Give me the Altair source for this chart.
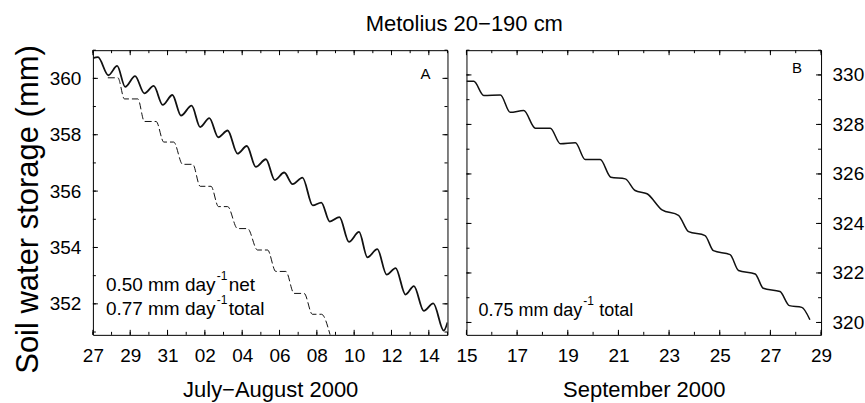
import altair as alt
import pandas as pd

FONT = "Liberation Sans"
W, H = 355, 285

# ---------------- Panel A: July-August 2000 ----------------
# time = days after 27 Jul 2000 00:00
a_days = [0.00, 0.27, 0.83, 1.30, 1.73, 2.26, 2.76, 3.26, 3.74, 4.26, 4.72, 5.29, 5.75, 6.24,
          6.72, 7.22, 7.75, 8.25, 8.73, 9.27, 9.75, 10.25, 10.70, 11.23, 11.78, 12.24, 12.69,
          13.21, 13.72, 14.26, 14.71, 15.24, 15.74, 16.22, 16.75, 17.20, 17.73, 18.24, 18.80, 19.00]
a_vals = [360.72, 360.75, 360.11, 360.44, 359.70, 360.08, 359.47, 359.73, 359.06, 359.41, 358.68,
          359.03, 358.27, 358.59, 357.91, 358.15, 357.33, 357.60, 356.86, 357.13, 356.39, 356.66,
          356.25, 356.48, 355.49, 355.59, 354.92, 355.08, 354.20, 354.55, 353.65, 353.94, 353.04,
          353.27, 352.33, 352.63, 351.75, 352.02, 351.05, 351.34]

# dashed "total" staircase
b_days = [0.80, 1.34, 1.69, 2.41, 2.76, 3.39, 3.80, 4.33, 4.81, 5.35, 5.75, 6.33, 6.73, 7.22,
          7.75, 8.29, 8.82, 9.36, 9.80, 10.34, 10.78, 11.32, 11.76, 12.25, 12.71]
b_vals = [360.02, 360.02, 359.27, 359.27, 358.47, 358.47, 357.74, 357.74, 356.95, 356.95, 356.17,
          356.17, 355.45, 355.45, 354.67, 354.67, 353.91, 353.91, 353.15, 353.15, 352.37, 352.37,
          351.63, 351.63, 350.90]

# ---------------- Panel B: September 2000 ----------------
# time = days after 15 Sep 2000 00:00
c_days = [0.00, 0.29, 0.68, 1.34, 1.73, 2.26, 2.72, 3.31, 3.71, 4.30, 4.69, 5.28, 5.70, 6.27,
          6.66, 7.13, 7.72, 8.37, 8.77, 9.42, 9.75, 10.41, 10.74, 11.40, 11.72, 12.38, 12.75,
          13.24, 13.56]
c_vals = [329.74, 329.74, 329.17, 329.19, 328.49, 328.56, 327.85, 327.85, 327.22, 327.26, 326.58,
          326.58, 325.87, 325.80, 325.33, 325.20, 324.55, 324.33, 323.67, 323.51, 322.90, 322.74,
          322.10, 321.96, 321.38, 321.25, 320.68, 320.61, 320.11]

# axis ticks
a_x_major = ["2000-07-27", "2000-07-29", "2000-07-31", "2000-08-02", "2000-08-04", "2000-08-06",
             "2000-08-08", "2000-08-10", "2000-08-12", "2000-08-14"]
c_x_major = ["2000-09-15", "2000-09-17", "2000-09-19", "2000-09-21", "2000-09-23", "2000-09-25",
             "2000-09-27", "2000-09-29"]
a_y_major = [352, 354, 356, 358, 360]
a_y_minor = [351, 352, 353, 354, 355, 356, 357, 358, 359, 360, 361]
c_y_major = [320, 322, 324, 326, 328, 330]
c_y_minor = [320, 321, 322, 323, 324, 325, 326, 327, 328, 329, 330, 331]


def to_time(start, days):
    return pd.Timestamp(start) + pd.to_timedelta(days, unit="D")


df_a = pd.DataFrame({"t": to_time("2000-07-27", a_days), "v": a_vals})
df_b = pd.DataFrame({"t": to_time("2000-07-27", b_days), "v": b_vals})
df_c = pd.DataFrame({"t": to_time("2000-09-15", c_days), "v": c_vals})


def dt(s):
    y, m, d = (int(p) for p in s.split("-"))
    return alt.DateTime(year=y, month=m, date=d)


def panel(lines, xdom, ydom, x_major, y_major, y_minor, x_title, y_axis_label, texts):
    xs = alt.Scale(domain=[dt(xdom[0]), dt(xdom[1])], nice=False)
    ys = alt.Scale(domain=ydom, nice=False, zero=False)
    layers = []
    for i, (df, style) in enumerate(lines):
        if i == 0:
            xa = alt.Axis(values=[dt(d) for d in x_major], format="%d", title=x_title,
                          ticks=False, labelPadding=12, labelFontSize=19, titleFontSize=22,
                          titlePadding=14, labelFlush=False, labelOverlap=False)
            ya = y_axis_label
        else:
            xa = None
            ya = None
        layers.append(
            alt.Chart(df).mark_line(clip=True, interpolate="monotone", color="#111111", **style)
            .encode(x=alt.X("t:T", scale=xs, axis=xa), y=alt.Y("v:Q", scale=ys, axis=ya))
        )
    # inward tick marks on all four sides
    x_minor = pd.DataFrame({"t": pd.date_range(xdom[0], xdom[1], freq="D")})
    x_maj = pd.DataFrame({"t": pd.to_datetime(x_major)})
    y_min = pd.DataFrame({"v": y_minor})
    y_maj = pd.DataFrame({"v": y_major})
    for df_t, size in [(x_maj, 5), (x_minor, 3)]:
        for y0, y1 in [(H, H - size), (0, size)]:
            layers.append(
                alt.Chart(df_t).mark_rule(color="black", strokeWidth=1)
                .encode(x=alt.X("t:T", scale=xs, axis=None), y=alt.value(y0), y2=alt.value(y1))
            )
    for df_t, size in [(y_maj, 5), (y_min, 3)]:
        for x0, x1 in [(0, size), (W, W - size)]:
            layers.append(
                alt.Chart(df_t).mark_rule(color="black", strokeWidth=1)
                .encode(y=alt.Y("v:Q", scale=ys, axis=None), x=alt.value(x0), x2=alt.value(x1))
            )
    for txt, x, y, size, align in texts:
        layers.append(
            alt.Chart(pd.DataFrame({"s": [txt]})).mark_text(
                font=FONT, fontSize=size, color="black", align=align, baseline="alphabetic")
            .encode(x=alt.value(x), y=alt.value(y), text="s:N")
        )
    return alt.layer(*layers).resolve_axis(x="independent", y="independent").properties(
        width=W, height=H)


left_y = alt.Axis(values=a_y_major, title="Soil water storage (mm)", ticks=False,
                  labelPadding=12, labelFontSize=19, titleFontSize=31, titleAngle=270,
                  titleAlign="center", titleBaseline="alphabetic", titleX=-55, titleY=159)
right_y = alt.Axis(orient="right", values=c_y_major, title=None, ticks=False,
                   labelPadding=11, labelFontSize=19)

texts_a = [
    ("A", 338, 29, 15, "right"),
    ("0.50 mm day", 13, 241, 19, "left"),
    ("-1", 124, 230, 12, "left"),
    ("net", 136, 241, 19, "left"),
    ("0.77 mm day", 13, 265, 19, "left"),
    ("-1", 124, 254, 12, "left"),
    ("total", 136, 265, 19, "left"),
]
texts_c = [
    ("B", 336, 23, 15, "right"),
    ("0.75 mm day", 12, 266, 18, "left"),
    ("-1", 117, 255, 12, "left"),
    ("total", 133, 266, 18, "left"),
]

left = panel([(df_a, {"strokeWidth": 1.8}), (df_b, {"strokeWidth": 1, "strokeDash": [7, 3]})],
             ["2000-07-27", "2000-08-15"], [350.9, 361.0], a_x_major, a_y_major, a_y_minor,
             "July\u2212August 2000", left_y, texts_a)
right = panel([(df_c, {"strokeWidth": 1.5})],
              ["2000-09-15", "2000-09-29"], [319.5, 331.0], c_x_major, c_y_major, c_y_minor,
              "September 2000", right_y, texts_c)

chart = alt.hconcat(left, right, spacing=19, bounds="flush").properties(
    title=alt.TitleParams("Metolius 20\u2212190 cm", font=FONT, fontSize=22, fontWeight="normal",
                          color="black", anchor="middle", offset=8, dx=26),
    padding={"left": 12, "top": 12, "right": 0, "bottom": 0},
    background="white",
).configure_view(stroke="black", strokeWidth=1).configure_axis(
    labelFont=FONT, titleFont=FONT, labelColor="black", titleColor="black",
    titleFontWeight="normal", grid=False, domain=False,
)

chart.save("out.html", embed_options={"renderer": "svg", "actions": False})
